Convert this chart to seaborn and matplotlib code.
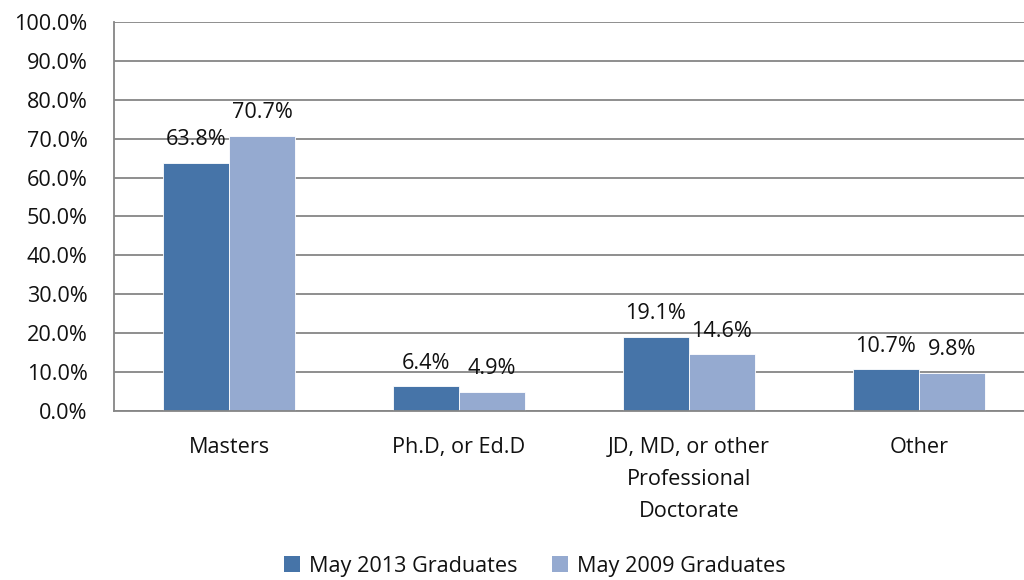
import pandas as pd
import matplotlib.pyplot as plt
import seaborn as sns
from matplotlib.patches import Patch

degrees = ["Masters", "Ph.D, or Ed.D", "JD, MD, or other\nProfessional\nDoctorate", "Other"]
grads_2013 = [63.8, 6.4, 19.1, 10.7]
grads_2009 = [70.7, 4.9, 14.6, 9.8]
series = ["May 2013 Graduates", "May 2009 Graduates"]
colors = ["#4674A8", "#95AAD0"]

df = pd.DataFrame({
    "degree": degrees * 2,
    "pct": grads_2013 + grads_2009,
    "group": [series[0]] * 4 + [series[1]] * 4,
})

sns.set_style("white")
plt.rcParams["font.family"] = ["Open Sans", "DejaVu Sans"]
fs = 15.6

fig = plt.figure(figsize=(10.24, 5.8), dpi=100)
ax = fig.add_axes([0.1113, 0.2914, 0.8984, 0.6707])

sns.barplot(data=df, x="degree", y="pct", hue="group", palette=colors,
            saturation=1, width=0.574, gap=0, edgecolor="white", linewidth=0.6,
            legend=False, ax=ax)

for cont in ax.containers:
    ax.bar_label(cont, labels=[f"{v:.1f}%" for v in cont.datavalues],
                 padding=9, fontsize=fs, color="#111111")

ax.set_ylim(0, 100)
ax.set_xlim(-0.5, 3.5)
ax.set_yticks(range(0, 101, 10))
ax.set_yticklabels([f"{v:.1f}%" for v in range(0, 101, 10)], fontsize=fs, color="#111111")
ax.yaxis.grid(True, color="#868686", linewidth=1.3)
ax.set_axisbelow(True)

ax.set_xticks([0, 1, 2, 3])
ax.set_xticklabels(degrees, fontsize=fs, linespacing=1.68, va="top", color="#111111")
ax.set_xticks([-0.5, 0.5, 1.5, 2.5, 3.5], minor=True)
ax.tick_params(axis="x", which="major", length=0, pad=19)
ax.tick_params(axis="x", which="minor", length=7, width=1.3, color="#868686", direction="out")
ax.tick_params(axis="y", length=8, width=1.3, color="#868686", direction="out", pad=11)
ax.set_xlabel("")
ax.set_ylabel("")

for s in ["top", "right"]:
    ax.spines[s].set_visible(False)
for s in ["left", "bottom"]:
    ax.spines[s].set_color("#868686")
    ax.spines[s].set_linewidth(1.3)

handles = [Patch(facecolor=c, edgecolor="none") for c in colors]
fig.legend(handles, series, loc="center", bbox_to_anchor=(0.522, 0.024),
           ncol=2, frameon=False, fontsize=fs, handlelength=0.75, handleheight=0.75,
           handletextpad=0.4, columnspacing=1.6, labelcolor="#111111")

fig.savefig("out.png", dpi=100)
